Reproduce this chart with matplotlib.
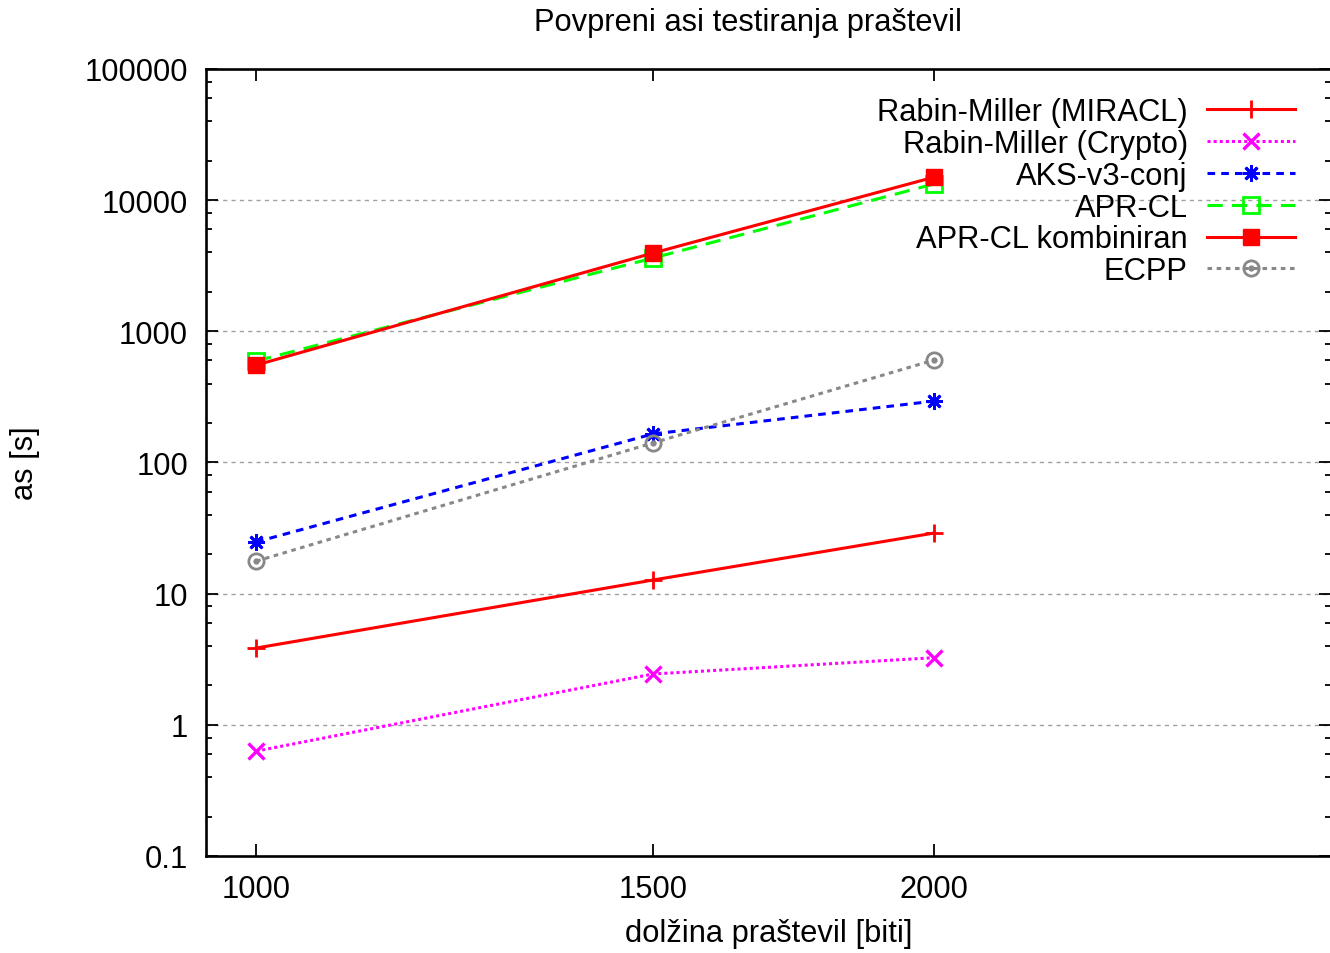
import matplotlib
matplotlib.use("Agg")
import matplotlib.pyplot as plt
from matplotlib.ticker import FixedLocator, FuncFormatter, NullLocator

plt.rcParams['font.family'] = ['Liberation Sans', 'DejaVu Sans']

# Data
bits = [1000, 1500, 2000]
rm_miracl = [3.85, 12.7, 29.0]
rm_crypto = [0.63, 2.44, 3.25]
aks = [24.8, 165, 294]
aprcl = [594, 3620, 13300]
aprcl_komb = [553, 3950, 15000]
ecpp = [17.7, 141, 605]

x_ticks = [1000, 1500, 2000]
y_ticks = [0.1, 1, 10, 100, 1000, 10000, 100000]

FS = 22.2
LW = 2.2

fig = plt.figure(figsize=(13.3, 9.54), dpi=100)
ax = fig.add_axes([206 / 1330, 1 - 857 / 954, 1125 / 1330, 787 / 954])

h1, = ax.plot(bits, rm_miracl, color='#ff0000', lw=LW, ls='-',
              marker='+', ms=13, mew=2, label='Rabin-Miller (MIRACL)')
h2, = ax.plot(bits, rm_crypto, color='#ff00ff', lw=LW, ls=(0, (1, 1)),
              marker='x', ms=11, mew=2.4, label='Rabin-Miller (Crypto)')
h3, = ax.plot(bits, aks, color='#0000ff', lw=LW, ls=(0, (2.5, 2)),
              marker=(8, 2, 0), ms=12, mew=2, label='AKS-v3-conj')
h4, = ax.plot(bits, aprcl, color='#00ff00', lw=LW, ls=(0, (5, 3)),
              marker='s', ms=11, mew=2, mfc='none', label='APR-CL')
h5, = ax.plot(bits, aprcl_komb, color='#ff0000', lw=LW, ls='-',
              marker='s', ms=11, mew=1, label='APR-CL kombiniran')
h6, = ax.plot(bits, ecpp, color='#888888', lw=LW, ls=(0, (1.5, 1.5)),
              marker='o', ms=11, mew=2, mfc='none', label='ECPP')
h6b, = ax.plot(bits, ecpp, color='#888888', ls='none', marker='o', ms=3.5)

ax.set_xscale('log')
ax.set_yscale('log')
ax.set_xlim(950, 3000)
ax.set_ylim(0.1, 100000)

ax.xaxis.set_major_locator(FixedLocator(x_ticks))
ax.xaxis.set_minor_locator(NullLocator())
ax.xaxis.set_major_formatter(FuncFormatter(lambda v, p: '%g' % v))
ax.yaxis.set_major_locator(FixedLocator(y_ticks))
minors = [m * 10.0 ** e for e in range(-1, 5) for m in (2, 4, 6, 8)]
ax.yaxis.set_minor_locator(FixedLocator(minors))
ax.yaxis.set_major_formatter(FuncFormatter(lambda v, p: '%g' % v))

ax.tick_params(which='both', direction='in', top=True, right=True,
               labelsize=FS, width=1.3)
ax.tick_params(which='major', length=8.6)
ax.tick_params(which='minor', length=4.3)
ax.tick_params(axis='y', pad=13)
ax.tick_params(axis='x', pad=13)
for s in ax.spines.values():
    s.set_linewidth(1.9)

ax.yaxis.grid(True, which='major', color='#a0a0a0', ls=(0, (3, 3)), lw=1)
ax.set_axisbelow(True)

ax.set_xlabel('dolžina praštevil [biti]', fontsize=FS, labelpad=10)
ax.set_ylabel('as [s]', fontsize=FS)
ax.yaxis.set_label_coords(25 / 1330, 0.5 * (2 - 857 / 954 - 70 / 954),
                          transform=fig.transFigure)
ax.yaxis.label.set_va('center')
fig.text(748 / 1330, 1 - 23 / 954, 'Povpreni asi testiranja praštevil',
         fontsize=FS, ha='center', va='center')

ax.legend([h1, h2, h3, h4, h5, (h6, h6b)],
          [h1.get_label(), h2.get_label(), h3.get_label(), h4.get_label(),
           h5.get_label(), h6.get_label()],
          loc='upper right', bbox_to_anchor=(1295 / 1330, 1 - 98 / 954),
          bbox_transform=fig.transFigure, frameon=False, fontsize=FS,
          markerfirst=False, handlelength=2.85, handletextpad=0.63,
          labelspacing=0.06, borderpad=0, borderaxespad=0, numpoints=1)

fig.savefig('out.png', dpi=100)
